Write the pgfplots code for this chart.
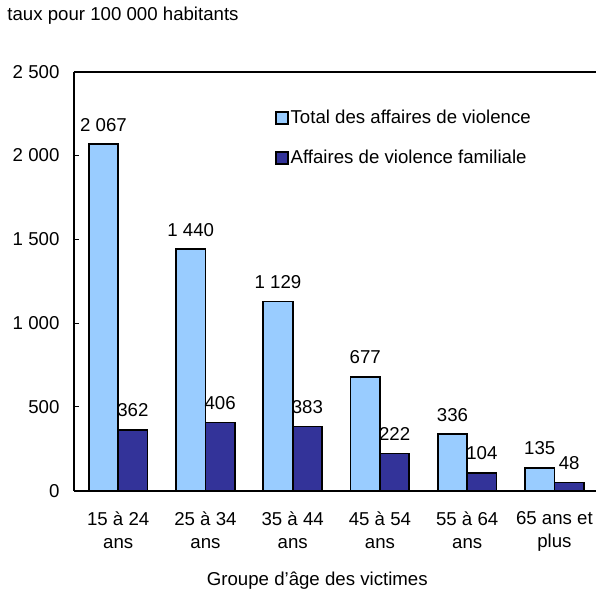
\documentclass[border=0pt]{standalone}
\usepackage{pgfplots}
\pgfplotsset{compat=1.18}
\usepackage{fontspec}
\setmainfont{Liberation Sans}
\definecolor{lightbar}{HTML}{99CCFF}
\definecolor{darkbar}{HTML}{333399}
\begin{document}
\fontsize{18.7pt}{22pt}\selectfont
\begin{tikzpicture}[font=\fontsize{18.7pt}{22pt}\selectfont]
\begin{axis}[
  scale only axis,
  width=524pt, height=420pt,
  at={(0,0)}, anchor=south west,
  xmin=-0.509, xmax=5.48,
  ymin=0, ymax=2500,
  axis x line*=bottom,
  axis y line*=left,
  axis line style={line width=1.8pt, -},
  ytick={0,500,1000,1500,2000,2500},
  tick align=inside,
  major tick length=5pt,
  y tick style={line width=1pt, black},
  xtick={0,1,2,3,4,5},
  x tick style={draw=none},
  xticklabels={{15 à 24\\ans},{25 à 34\\ans},{35 à 44\\ans},{45 à 54\\ans},{55 à 64\\ans},{65 ans et\\plus}},
  xticklabel style={align=center, font=\fontsize{18.7pt}{23pt}\selectfont, yshift=-10pt},
  yticklabel style={xshift=-8pt},
  /pgf/number format/.cd, 1000 sep={\ }, assume math mode=true,
  /pgfplots/.cd,
  ybar=0pt,
  bar width=0.337,
  every axis x label/.style={at={(rel axis cs:0.466,0)}, anchor=center, yshift=-90pt},
  xlabel={Groupe d’âge des victimes},
  every axis y label/.style={at={(rel axis cs:0,1)}, anchor=west, xshift=-73pt, yshift=56pt},
  ylabel={taux pour 100 000 habitants},
  nodes near coords,
  every node near coord/.append style={anchor=south, yshift=6pt, black},
  legend style={at={(rel axis cs:0.385,0.916)}, anchor=north west, draw=none, fill=none,
    row sep=18pt, inner sep=0pt, nodes={inner sep=2pt, text height=14pt, text depth=4pt}},
  legend cell align=left,
  clip=false,
]
\addplot[fill=lightbar, draw=black, line width=1.8pt, bar shift=-0.1685,
  legend image code/.code={\draw[fill=lightbar, draw=black, line width=1.5pt] (0pt,-6pt) rectangle (12pt,6pt);}]
  coordinates {(0,2067) (1,1440) (2,1129) (3,677) (4,336) (5,135)};
\addlegendentry{Total des affaires de violence}
\addplot[fill=darkbar, draw=black, line width=1.8pt, bar shift=0.1685,
  legend image code/.code={\draw[fill=darkbar, draw=black, line width=1.5pt] (0pt,-6pt) rectangle (12pt,6pt);}]
  coordinates {(0,362) (1,406) (2,383) (3,222) (4,104) (5,48)};
\addlegendentry{Affaires de violence familiale}
\draw[line width=1.8pt] (rel axis cs:0,1) -- (rel axis cs:1,1);
\end{axis}
\path (-74pt,-100pt) rectangle (525pt,492pt);
\end{tikzpicture}
\end{document}
